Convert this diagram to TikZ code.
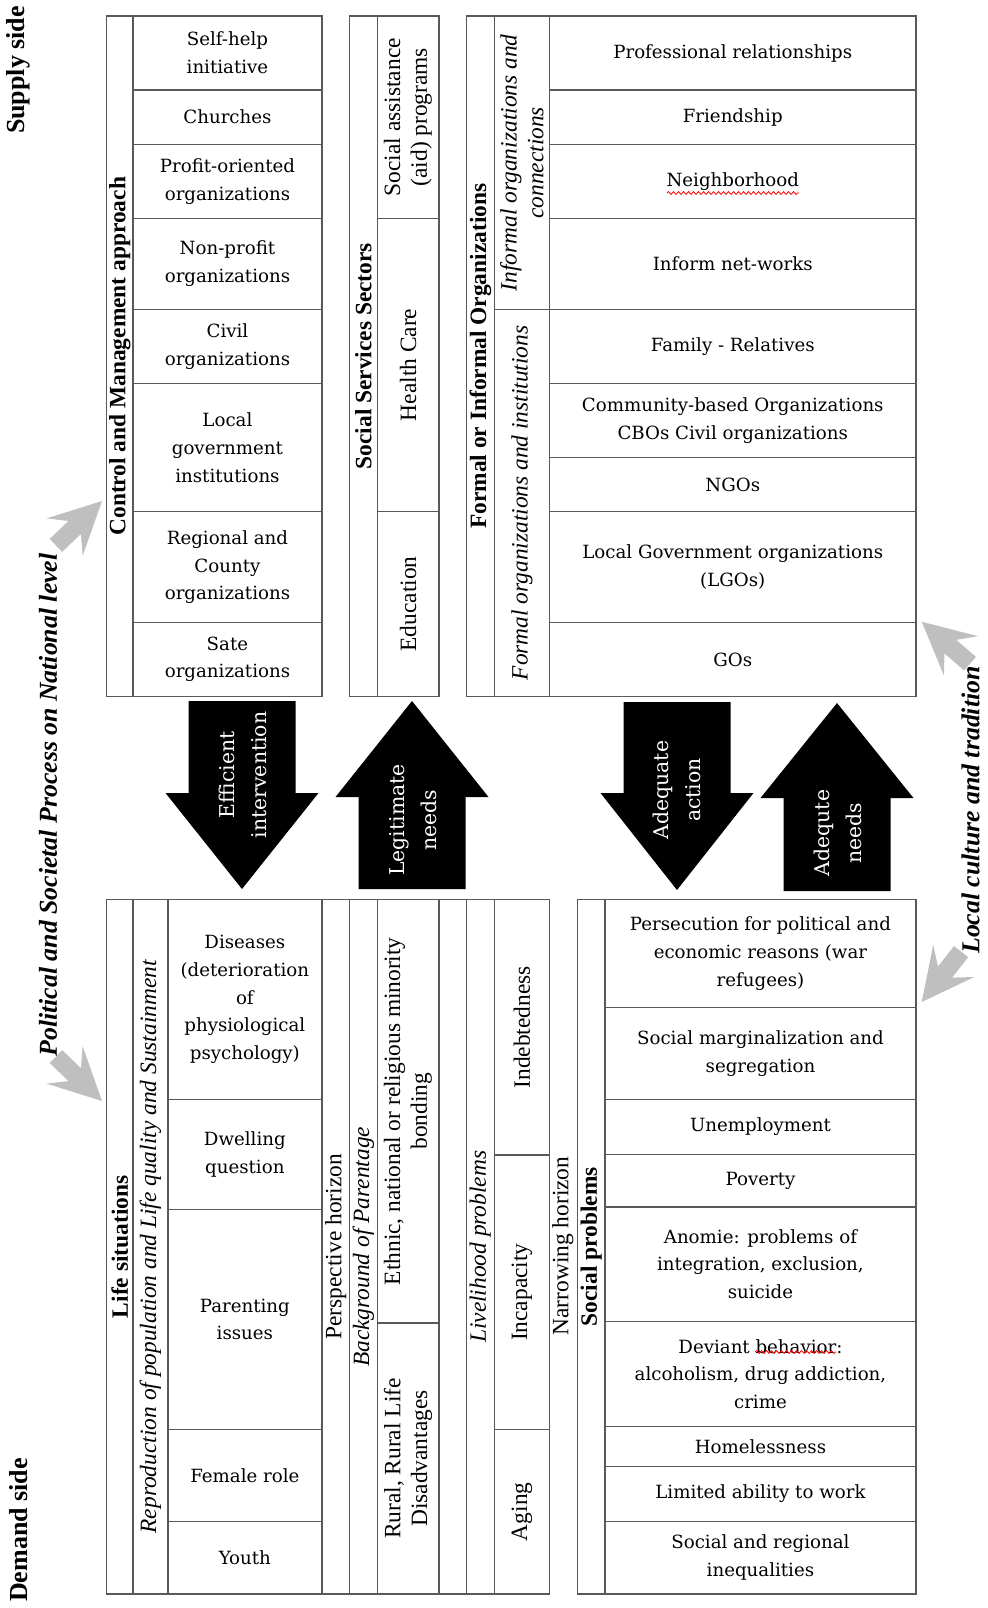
\documentclass[tikz,border=0pt]{standalone}
\usepackage{fontspec}
\setmainfont{Liberation Serif}
\newfontfamily\itemfont{DejaVu Serif}
\usetikzlibrary{decorations.pathmorphing}
\begin{document}
\begin{tikzpicture}[x=0.5pt, y=-0.5pt,
	cell/.style={draw=black!65, line width=0.7pt, inner sep=0pt, anchor=north west, align=center, text=black, font=\itemfont\fontsize{9.1}{13.85}\selectfont},
	box/.style 2 args={minimum width={#1*0.5pt}, minimum height={#2*0.5pt}},
	vlab/.style={rotate=90, align=center, inner sep=0pt, font=\fontsize{11.7}{13.4}\selectfont},
	vtitle/.style={vlab, font=\fontsize{11.7}{13.4}\selectfont\bfseries},
	vital/.style={vlab, font=\fontsize{11.7}{13.4}\selectfont\itshape},
	sidelab/.style={rotate=90, inner sep=0pt, font=\fontsize{13}{15}\selectfont\bfseries},
	proclab/.style={rotate=90, inner sep=0pt, font=\fontsize{12.9}{15}\selectfont\bfseries\itshape},
	arrtext/.style={rotate=90, align=center, inner sep=0pt, text=white, font=\itemfont\fontsize{10.2}{16}\selectfont},
	blockarrow/.style={fill=black},
	grayarrow/.style={fill=black!25},
	squiggle/.style={red, line width=0.4pt, decorate, decoration={snake, amplitude=0.7pt, segment length=2.5pt}}]
\useasboundingbox (0,0) rectangle (987,1608);

\node[sidelab] (supply) at (18.5,70) {Supply side};
\node[sidelab] (demand) at (18.5,1530) {Demand side};
\node[proclab] (polproc) at (48,805) {Political and Societal Process on National level};
\node[proclab] (loccult) at (970.5,810) {Local culture and tradition};

\node[cell, box={26.7}{680.2}] (ctrl) at (105.7,15.4) {};
\node[vtitle] (ctrltext) at (ctrl.center) {Control and Management approach};
\node[cell, box={188.7}{73.9}] (selfhelp) at (132.4,15.4) {Self-help\\initiative};
\node[cell, box={188.7}{54.3}] (churches) at (132.4,89.3) {Churches};
\node[cell, box={188.7}{73.9}] (profit) at (132.4,143.6) {Profit-oriented\\organizations};
\node[cell, box={188.7}{91.3}] (nonprofit) at (132.4,217.5) {Non-profit\\organizations};
\node[cell, box={188.7}{73.9}] (civil) at (132.4,308.8) {Civil\\organizations};
\node[cell, box={188.7}{128.3}] (localgov) at (132.4,382.7) {Local\\government\\institutions};
\node[cell, box={188.7}{110.8}] (regional) at (132.4,511) {Regional and\\County\\organizations};
\node[cell, box={188.7}{73.8}] (sate) at (132.4,621.8) {Sate\\organizations};

\node[cell, box={27.7}{680.2}] (sss) at (348.8,15.4) {};
\node[vtitle] (ssstext) at (sss.center) {Social Services Sectors};
\node[cell, box={61.6}{202.1}] (aid) at (376.5,15.4) {};
\node[vlab] (aidtext) at (aid.center) {Social assistance\\(aid) programs};
\node[cell, box={61.6}{293.5}] (health) at (376.5,217.5) {};
\node[vlab] (healthtext) at (health.center) {Health Care};
\node[cell, box={61.6}{184.6}] (educ) at (376.5,511) {};
\node[vlab] (eductext) at (educ.center) {Education};

\node[cell, box={27.7}{680.2}] (foi) at (465.8,15.4) {};
\node[vtitle] (foitext) at (foi.center) {Formal or Informal Organizations};
\node[cell, box={55.4}{293.4}] (informal) at (493.5,15.4) {};
\node[vital] (informaltext) at (informal.center) {Informal organizations and\\connections};
\node[cell, box={55.4}{386.8}] (formal) at (493.5,308.8) {};
\node[vital] (formaltext) at (formal.center) {Formal organizations and institutions};
\node[cell, box={366.3}{73.9}] (prof) at (548.9,15.4) {Professional relationships};
\node[cell, box={366.3}{54.3}] (friend) at (548.9,89.3) {Friendship};
\node[cell, box={366.3}{73.9}] (neigh) at (548.9,143.6) {Neighborhood};
\node[cell, box={366.3}{91.3}] (infnet) at (548.9,217.5) {Inform net-works};
\node[cell, box={366.3}{73.9}] (family) at (548.9,308.8) {Family - Relatives};
\node[cell, box={366.3}{73.9}] (cbo) at (548.9,382.7) {Community-based Organizations\\CBOs Civil organizations};
\node[cell, box={366.3}{54.4}] (ngo) at (548.9,456.6) {NGOs};
\node[cell, box={366.3}{110.8}] (lgo) at (548.9,511) {Local Government organizations\\(LGOs)};
\node[cell, box={366.3}{73.8}] (gos) at (548.9,621.8) {GOs};
\draw[squiggle] (667,193) -- (799,193);

\fill[blockarrow] (188.5,701) -- (295.5,701) -- (295.5,793) -- (318.5,793) -- (242,889) -- (165.5,793) -- (188.5,793) -- cycle;
\fill[blockarrow] (412,701) -- (488.5,797) -- (465.5,797) -- (465.5,889) -- (358.5,889) -- (358.5,797) -- (335.5,797) -- cycle;
\fill[blockarrow] (623.5,702) -- (730.5,702) -- (730.5,793) -- (753.5,793) -- (677,890) -- (600.5,793) -- (623.5,793) -- cycle;
\fill[blockarrow] (837,703) -- (913.5,798) -- (890.5,798) -- (890.5,891) -- (783.5,891) -- (783.5,798) -- (760.5,798) -- cycle;
\node[arrtext] (effint) at (243,775) {Efficient\\intervention};
\node[arrtext] (legneeds) at (413,820) {Legitimate\\needs};
\node[arrtext] (adeqact) at (677,790) {Adequate\\action};
\node[arrtext] (adeqneeds) at (838,833) {Adequte\\needs};

\node[cell, box={26.7}{694.6}] (life) at (105.7,898.8) {};
\node[vtitle] (lifetext) at (life.center) {Life situations};
\node[cell, box={34.8}{694.6}] (repro) at (132.4,898.8) {};
\node[vital] (reprotext) at (repro.center) {Reproduction of population and Life quality and Sustainment};
\node[cell, box={153.9}{200}] (diseases) at (167.2,898.8) {Diseases\\(deterioration\\of\\physiological\\psychology)};
\node[cell, box={153.9}{109.9}] (dwelling) at (167.2,1098.8) {Dwelling\\question};
\node[cell, box={153.9}{220}] (parenting) at (167.2,1208.7) {Parenting\\issues};
\node[cell, box={153.9}{91.8}] (female) at (167.2,1428.7) {Female role};
\node[cell, box={153.9}{72.9}] (youth) at (167.2,1520.5) {Youth};
\node[cell, box={27.7}{694.6}] (persp) at (321.1,898.8) {};
\node[vlab] (persptext) at (persp.center) {Perspective horizon};
\node[cell, box={27.7}{694.6}] (backgr) at (348.8,898.8) {};
\node[vital] (backgrtext) at (backgr.center) {Background of Parentage};
\node[cell, box={61.6}{423.5}] (ethnic) at (376.5,898.8) {};
\node[vlab] (ethnictext) at (ethnic.center) {Ethnic, national or religious minority\\bonding};
\node[cell, box={61.6}{271.1}] (rural) at (376.5,1322.3) {};
\node[vlab] (ruraltext) at (rural.center) {Rural, Rural Life\\Disadvantages};
\node[cell, box={27.7}{694.6}] (blank) at (438.1,898.8) {};
\node[cell, box={27.7}{694.6}] (livel) at (465.8,898.8) {};
\node[vital] (liveltext) at (livel.center) {Livelihood problems};
\node[cell, box={55.4}{255.4}] (indebt) at (493.5,898.8) {};
\node[vlab] (indebttext) at (indebt.center) {Indebtedness};
\node[cell, box={55.4}{274.5}] (incap) at (493.5,1154.2) {};
\node[vlab] (incaptext) at (incap.center) {Incapacity};
\node[cell, box={55.4}{164.7}] (aging) at (493.5,1428.7) {};
\node[vlab] (agingtext) at (aging.center) {Aging};
\node[vlab] (narrow) at (562.7,1246) {Narrowing horizon};

\node[cell, box={27.7}{694.6}] (socprob) at (576.6,898.8) {};
\node[vtitle] (socprobtext) at (socprob.center) {Social problems};
\node[cell, box={310.9}{107.8}] (persec) at (604.3,898.8) {Persecution for political and\\economic reasons (war\\refugees)};
\node[cell, box={310.9}{92}] (margin) at (604.3,1006.6) {Social marginalization and\\segregation};
\node[cell, box={310.9}{55.2}] (unemp) at (604.3,1098.6) {Unemployment};
\node[cell, box={310.9}{52.5}] (poverty) at (604.3,1153.8) {Poverty};
\node[cell, box={310.9}{114.2}] (anomie) at (604.3,1206.3) {Anomie: problems of\\integration, exclusion,\\suicide};
\node[cell, box={310.9}{105.5}] (deviant) at (604.3,1320.5) {Deviant behavior:\\alcoholism, drug addiction,\\crime};
\node[cell, box={310.9}{40}] (homeless) at (604.3,1426) {Homelessness};
\node[cell, box={310.9}{54.6}] (limited) at (604.3,1466) {Limited ability to work};
\node[cell, box={310.9}{72.8}] (ineq) at (604.3,1520.6) {Social and regional\\inequalities};
\draw[squiggle] (755,1352) -- (836,1352);

\foreach \tx/\ty/\ang in {102/501/44, 102/1101/-44, 921.7/621.7/139, 921.7/1002/-128}
	\fill[grayarrow, shift={(\tx,\ty)}, rotate=\ang] (0,0) -- (-52,26) -- (-38,9) -- (-64,9) -- (-64,-9) -- (-38,-9) -- (-52,-26) -- cycle;
\end{tikzpicture}
\end{document}
